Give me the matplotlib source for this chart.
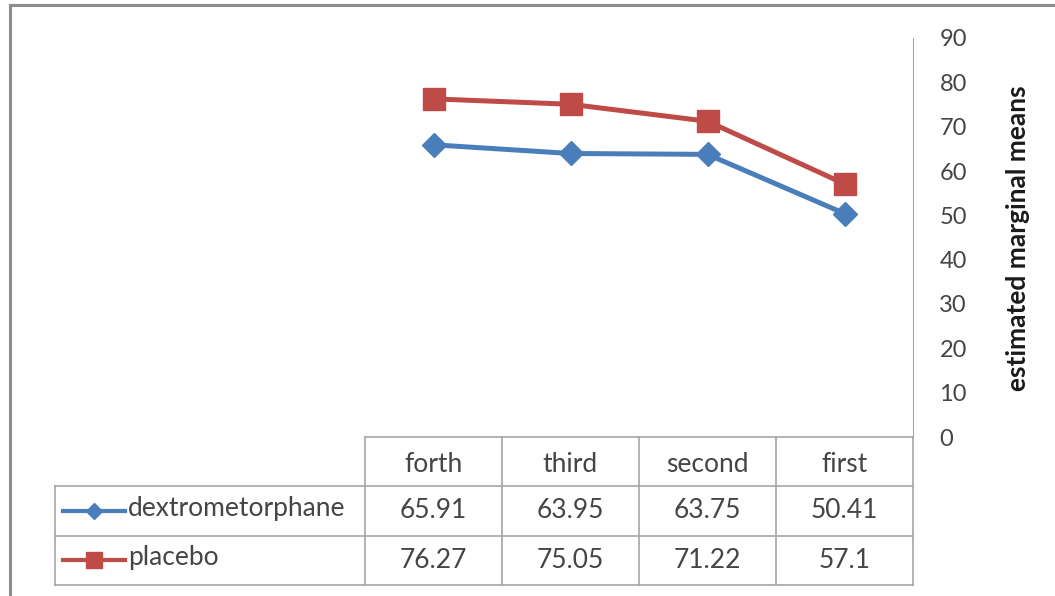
import matplotlib.pyplot as plt
from matplotlib.lines import Line2D

# estimated marginal means per session
categories = ["forth", "third", "second", "first"]
dextro = [65.91, 63.95, 63.75, 50.41]
placebo = [76.27, 75.05, 71.22, 57.1]
series_names = ["dextrometorphane", "placebo"]

blue = "#4a7ebb"
red = "#be4b48"
grid_col = "#a6a6a6"
txt_col = "#454545"

plt.rcParams["font.family"] = ["Lato", "DejaVu Sans"]

W, H = 1055, 596
fig = plt.figure(figsize=(W / 100, H / 100), dpi=100)

def box(x0, y0, x1, y1):
    # pixel box (top-left origin) -> figure fraction rect
    return [x0 / W, 1 - y1 / H, (x1 - x0) / W, (y1 - y0) / H]

# chart frame
fig.add_artist(Line2D([10 / W, 10 / W], [0, 1 - 5 / H], color="#8c8c8c", lw=2.2))
fig.add_artist(Line2D([10 / W, 1], [1 - 5 / H, 1 - 5 / H], color="#8c8c8c", lw=2.2))

# plot area
ax = fig.add_axes(box(365, 38, 913, 437))
x = range(len(categories))
ax.plot(x, dextro, color=blue, lw=3.6, marker="D", ms=12, solid_joinstyle="round")
ax.plot(x, placebo, color=red, lw=3.6, marker="s", ms=16, solid_joinstyle="round")
ax.set_xlim(-0.5, len(categories) - 0.5)
ax.set_ylim(0, 90)
ax.set_yticks(range(0, 91, 10))
ax.yaxis.tick_right()
ax.tick_params(axis="y", length=0, pad=19, labelsize=17, labelcolor=txt_col)
ax.set_xticks([])
for s in ["top", "left", "bottom"]:
    ax.spines[s].set_visible(False)
ax.spines["right"].set_color(grid_col)
ax.patch.set_alpha(0)

fig.text(1018 / W, 1 - 238 / H, "estimated marginal means", rotation=90,
         ha="center", va="center", fontsize=19, fontweight="bold", color="#1a1a1a")

# data table under the plot
label_w = 2.26
tx = fig.add_axes(box(55, 437, 913, 585))
tx.set_xlim(-0.5 - label_w, len(categories) - 0.5)
tx.set_ylim(3, 0)
tx.axis("off")
x_left = -0.5 - label_w
x_right = len(categories) - 0.5
kw = dict(color=grid_col, lw=1.2, clip_on=False)
tx.plot([-0.5, x_right], [0, 0], **kw)
for r in (1, 2, 3):
    tx.plot([x_left, x_right], [r, r], **kw)
tx.plot([x_left, x_left], [1, 3], **kw)
for c in range(len(categories) + 1):
    tx.plot([c - 0.5, c - 0.5], [0, 3], **kw)

for i, name in enumerate(categories):
    tx.text(i, 0.55, name, ha="center", va="center", fontsize=19, color=txt_col)
for r, vals in enumerate([dextro, placebo], start=1):
    for i, v in enumerate(vals):
        tx.text(i, r + 0.5, f"{v:g}", ha="center", va="center", fontsize=19, color=txt_col)

# legend keys inside the row label cells
keys = [(blue, "D", 8), (red, "s", 12)]
for r, (name, (col, mk, ms)) in enumerate(zip(series_names, keys), start=1):
    x0 = x_left + 0.06
    x1 = x_left + 0.51
    tx.plot([x0, x1], [r + 0.5, r + 0.5], color=col, lw=3, clip_on=False)
    tx.plot([(x0 + x1) / 2], [r + 0.5], color=col, marker=mk, ms=ms, clip_on=False)
    tx.text(x1 + 0.02, r + 0.45, name, ha="left", va="center", fontsize=19, color=txt_col)

fig.savefig("out.png", dpi=100)
